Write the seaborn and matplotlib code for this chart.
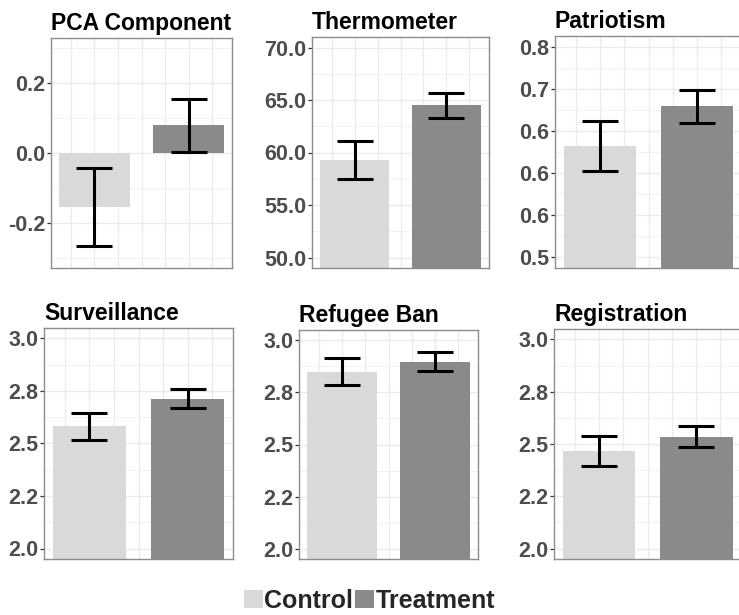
import numpy as np
import pandas as pd
import matplotlib
matplotlib.use("Agg")
import matplotlib.pyplot as plt
import matplotlib.patches as mpatches
from matplotlib.ticker import FixedLocator
import seaborn as sns

# ---------------- data ----------------
groups = ["Control", "Treatment"]
panel_titles = ["PCA Component", "Thermometer", "Patriotism",
                "Surveillance", "Refugee Ban", "Registration"]
control_mean = [-0.155, 59.25, 0.632, 2.583, 2.850, 2.468]
control_err = [0.112, 1.80, 0.030, 0.064, 0.066, 0.072]
treatment_mean = [0.079, 64.50, 0.679, 2.713, 2.898, 2.535]
treatment_err = [0.075, 1.20, 0.020, 0.045, 0.046, 0.049]

ytick_values = [
    [-0.2, 0.0, 0.2],
    [50, 55, 60, 65, 70],
    [0.50, 0.55, 0.60, 0.65, 0.70, 0.75],
    [2.0, 2.25, 2.5, 2.75, 3.0],
    [2.0, 2.25, 2.5, 2.75, 3.0],
    [2.0, 2.25, 2.5, 2.75, 3.0],
]
ytick_labels = [
    ["-0.2", "0.0", "0.2"],
    ["50.0", "55.0", "60.0", "65.0", "70.0"],
    ["0.5", "0.6", "0.6", "0.6", "0.7", "0.8"],
    ["2.0", "2.2", "2.5", "2.8", "3.0"],
    ["2.0", "2.2", "2.5", "2.8", "3.0"],
    ["2.0", "2.2", "2.5", "2.8", "3.0"],
]
y_limits = [(-0.33, 0.33), (49, 71), (0.4875, 0.7625),
            (1.95, 3.05), (1.95, 3.05), (1.95, 3.05)]
y_minor = [
    [-0.3, -0.1, 0.1, 0.3],
    [52.5, 57.5, 62.5, 67.5],
    [0.525, 0.575, 0.625, 0.675, 0.725],
    [2.125, 2.375, 2.625, 2.875],
    [2.125, 2.375, 2.625, 2.875],
    [2.125, 2.375, 2.625, 2.875],
]

colors = {"Control": "#D9D9D9", "Treatment": "#8A8A8A"}

# ---------------- layout (pixels) ----------------
W, H = 739, 615
boxes = [  # left, right, top, bottom
    (51, 232, 38, 268),
    (312, 489, 37, 268),
    (555, 742, 36, 268),
    (44, 233, 328, 559),
    (299, 478, 330, 559),
    (554, 741, 329, 559),
]

sns.set_theme(style="white")
plt.rcParams["font.family"] = ["Liberation Sans", "DejaVu Sans"]

fig = plt.figure(figsize=(W / 100, H / 100), dpi=100)

for i, (l, r, t, b) in enumerate(boxes):
    ax = fig.add_axes([l / W, 1 - b / H, (r - l) / W, (b - t) / H])
    df = pd.DataFrame({
        "group": groups,
        "mean": [control_mean[i], treatment_mean[i]],
        "err": [control_err[i], treatment_err[i]],
    })
    sns.barplot(data=df, x="group", y="mean", hue="group", order=groups,
                hue_order=groups, palette=colors, width=0.75, legend=False,
                linewidth=0, ax=ax, zorder=2)
    xs = [p.get_x() + p.get_width() / 2 for p in ax.patches]
    ax.errorbar(xs, df["mean"], yerr=df["err"], fmt="none", ecolor="black",
                elinewidth=2.2, capsize=13, capthick=2.2, zorder=3)

    ax.set_xlim(-0.4625, 1.4625)
    ax.set_ylim(*y_limits[i])
    ax.set_yticks(ytick_values[i])
    ax.set_yticklabels(ytick_labels[i])
    ax.yaxis.set_minor_locator(FixedLocator(y_minor[i]))
    ax.xaxis.set_major_locator(FixedLocator([-0.25, 0, 0.25, 0.5, 0.75, 1.0, 1.25]))
    ax.set_xticklabels([])
    ax.set_xlabel("")
    ax.set_ylabel("")
    ax.grid(True, which="major", color="#EBEBEB", linewidth=1.0, zorder=0)
    ax.grid(True, which="minor", axis="y", color="#F2F2F2", linewidth=0.8, zorder=0)
    ax.set_axisbelow(True)
    ax.tick_params(axis="x", length=0)
    ax.tick_params(axis="y", which="major", length=3, width=0.9, color="#333333",
                   labelsize=15.5, labelcolor="#4D4D4D", pad=1, left=True)
    ax.tick_params(axis="y", which="minor", length=0)
    for lab in ax.get_yticklabels():
        lab.set_fontweight("bold")
    for sp in ax.spines.values():
        sp.set_color("#8C8C8C")
        sp.set_linewidth(1.0)
    ax.set_title(panel_titles[i], loc="left", fontsize=16.5, fontweight="bold",
                 color="black", pad=6)

handles = [mpatches.Patch(facecolor=colors[g], edgecolor="none", label=g) for g in groups]
leg = fig.legend(handles=handles, loc="center", bbox_to_anchor=(0.5, 1 - 601 / H),
                 ncol=2, frameon=False, handlelength=0.75, handleheight=0.75,
                 handletextpad=0.05, columnspacing=0.1, borderaxespad=0,
                 prop={"weight": "bold", "size": 18})

fig.savefig("out.png", dpi=100)
